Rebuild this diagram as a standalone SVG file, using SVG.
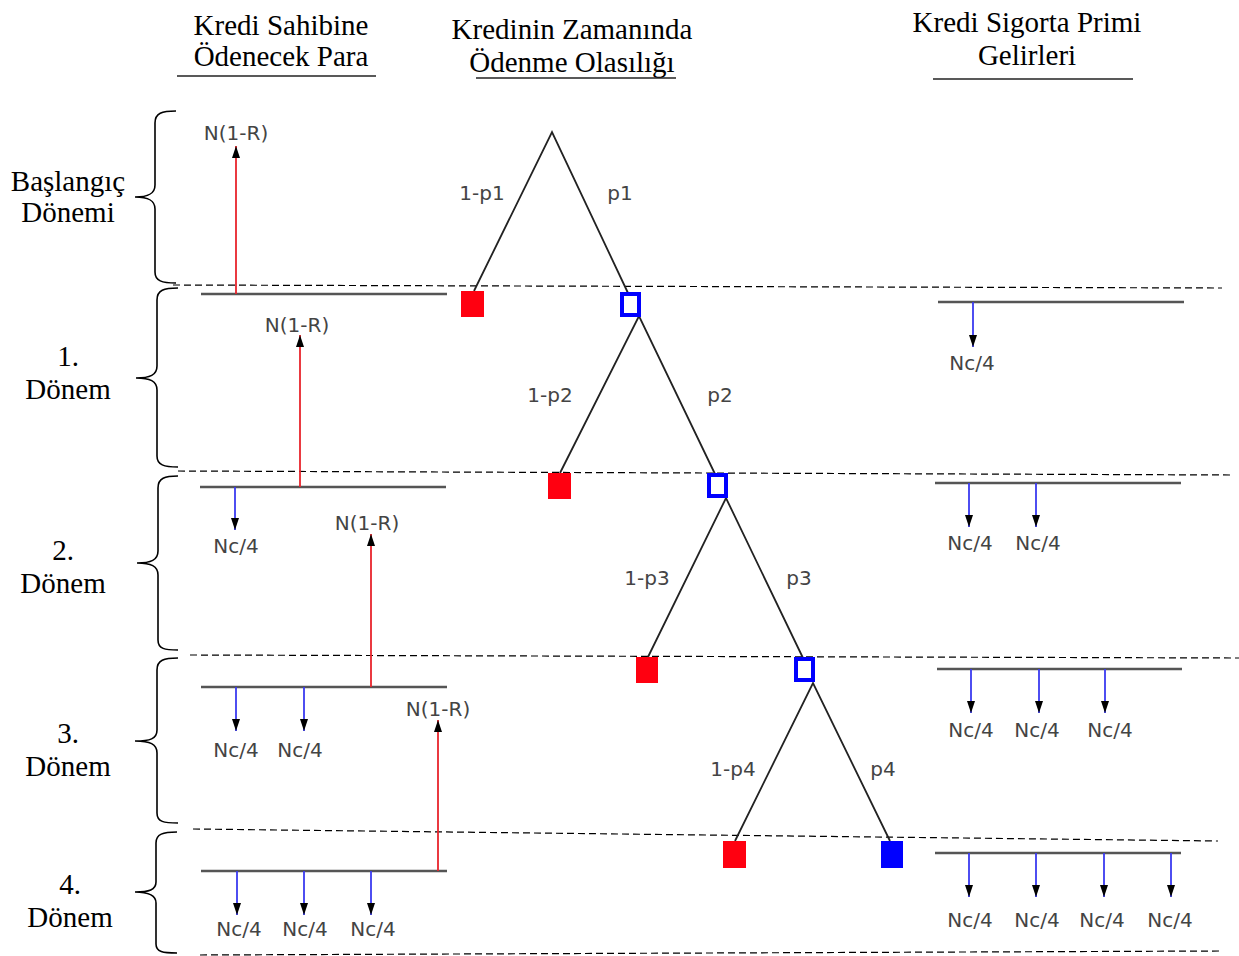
<svg xmlns="http://www.w3.org/2000/svg" width="1239" height="956" viewBox="0 0 1239 956">
<style>
.serif{font-family:"Liberation Serif","Times New Roman",serif;font-size:29px;fill:#000;text-anchor:middle}
.sans{font-family:"DejaVu Sans","Liberation Sans",sans-serif;font-size:20px;fill:#444;text-anchor:middle}
.dash{stroke:#000;stroke-width:1.2;stroke-dasharray:7 4;fill:none}
.tl{stroke:#555;stroke-width:2.6;fill:none}
.ul{stroke:#222;stroke-width:1.6;fill:none}
.brace{stroke:#000;stroke-width:1.6;fill:none}
.red{stroke:#e8242c;stroke-width:1.8;fill:none;marker-end:url(#ah)}
.blue{stroke:#3a3af0;stroke-width:1.8;fill:none;marker-end:url(#ah)}
.br{stroke:#222;stroke-width:1.8;fill:none}
.rs{fill:#ff0010}
.bh{fill:#fff;stroke:#0000ff;stroke-width:4}
.bf{fill:#0000ff}
</style>
<defs>
<marker id="ah" markerUnits="userSpaceOnUse" markerWidth="12" markerHeight="8" refX="12" refY="4" viewBox="0 0 12 8" orient="auto">
<path d="M0,0 L12,4 L0,8 z" fill="#000"/>
</marker>
</defs>
<rect width="1239" height="956" fill="#fff"/>

<g id="headers">
<text class="serif" x="281" y="35">Kredi Sahibine</text>
<text class="serif" x="281" y="66">Ödenecek Para</text>
<line class="ul" x1="177" y1="76" x2="376" y2="76"/>
<text class="serif" x="572" y="39">Kredinin Zamanında</text>
<text class="serif" x="572" y="72">Ödenme Olasılığı</text>
<line class="ul" x1="476" y1="78" x2="676" y2="78"/>
<text class="serif" x="1027" y="32">Kredi Sigorta Primi</text>
<text class="serif" x="1027" y="65">Gelirleri</text>
<line class="ul" x1="933" y1="79" x2="1133" y2="79"/>
</g>

<g id="period-labels">
<text class="serif" x="68" y="191">Başlangıç</text>
<text class="serif" x="68" y="222">Dönemi</text>
<text class="serif" x="68" y="366">1.</text>
<text class="serif" x="68" y="399">Dönem</text>
<text class="serif" x="63" y="560">2.</text>
<text class="serif" x="63" y="593">Dönem</text>
<text class="serif" x="68" y="743">3.</text>
<text class="serif" x="68" y="776">Dönem</text>
<text class="serif" x="70" y="894">4.</text>
<text class="serif" x="70" y="927">Dönem</text>
</g>

<g id="braces">
<path class="brace" d="M176,111 C162,111 155,113 155,123 L155,185 C155,194 148,197 135,197 C148,197 155,200 155,209 L155,272 C155,281 162,283 176,283"/>
<path class="brace" d="M178,288 C164,288 157,290 157,300 L157,366 C157,375 150,378 136,378 C150,378 157,381 157,390 L157,456 C157,465 164,467 178,467"/>
<path class="brace" d="M178,476 C165,476 158,478 158,488 L158,551 C158,560 151,563 137,563 C151,563 158,566 158,575 L158,640 C158,649 165,650 178,650"/>
<path class="brace" d="M178,658 C164,658 157,660 157,670 L157,730 C157,739 150,741 135,741 C150,741 157,744 157,753 L157,813 C157,822 164,823 178,823"/>
<path class="brace" d="M177,832 C163,832 156,834 156,843 L156,882 C156,890 149,892 135,892 C149,892 156,895 156,903 L156,944 C156,952 163,953 177,953"/>
</g>

<g id="dashed-lines">
<line class="dash" x1="173" y1="285" x2="1222" y2="288"/>
<line class="dash" x1="178" y1="471" x2="1230" y2="475"/>
<line class="dash" x1="190" y1="655" x2="1239" y2="658"/>
<line class="dash" x1="193" y1="829" x2="1218" y2="841"/>
<line class="dash" x1="200" y1="955" x2="1220" y2="951"/>
</g>

<g id="timelines">
<line class="tl" x1="201" y1="294" x2="447" y2="294"/>
<line class="tl" x1="200" y1="487" x2="446" y2="487"/>
<line class="tl" x1="201" y1="687" x2="447" y2="687"/>
<line class="tl" x1="201" y1="871" x2="447" y2="871"/>
<line class="tl" x1="938" y1="302" x2="1184" y2="302"/>
<line class="tl" x1="935" y1="483" x2="1181" y2="483"/>
<line class="tl" x1="937" y1="669" x2="1182" y2="669"/>
<line class="tl" x1="935" y1="853" x2="1181" y2="853"/>
</g>

<g id="connectors">
<line class="red" x1="236" y1="294" x2="236" y2="146"/>
<line class="red" x1="300" y1="487" x2="300" y2="335"/>
<line class="red" x1="371" y1="687" x2="371" y2="534"/>
<line class="red" x1="438" y1="871" x2="438" y2="720"/>
<line class="blue" x1="235" y1="487" x2="235" y2="530"/>
<line class="blue" x1="236" y1="687" x2="236" y2="731"/>
<line class="blue" x1="304" y1="687" x2="304" y2="731"/>
<line class="blue" x1="237" y1="871" x2="237" y2="915"/>
<line class="blue" x1="304" y1="871" x2="304" y2="915"/>
<line class="blue" x1="371" y1="871" x2="371" y2="915"/>
<line class="blue" x1="973" y1="302" x2="973" y2="347"/>
<line class="blue" x1="969" y1="483" x2="969" y2="527"/>
<line class="blue" x1="1036" y1="483" x2="1036" y2="527"/>
<line class="blue" x1="971" y1="669" x2="971" y2="713"/>
<line class="blue" x1="1039" y1="669" x2="1039" y2="713"/>
<line class="blue" x1="1105" y1="669" x2="1105" y2="713"/>
<line class="blue" x1="969" y1="853" x2="969" y2="897"/>
<line class="blue" x1="1036" y1="853" x2="1036" y2="897"/>
<line class="blue" x1="1104" y1="853" x2="1104" y2="897"/>
<line class="blue" x1="1171" y1="853" x2="1171" y2="897"/>
<path class="br" d="M474,291 L552,132 L628,293"/>
<path class="br" d="M560,473 L639,316 L715,474"/>
<path class="br" d="M648,657 L726,498 L803,658"/>
<path class="br" d="M735,841 L813,683 L890,841"/>
</g>

<g id="amount-labels">
<text class="sans" x="236" y="140">N(1-R)</text>
<text class="sans" x="297" y="332">N(1-R)</text>
<text class="sans" x="367" y="530">N(1-R)</text>
<text class="sans" x="438" y="716">N(1-R)</text>
<text class="sans" x="236" y="553">Nc/4</text>
<text class="sans" x="236" y="757">Nc/4</text>
<text class="sans" x="300" y="757">Nc/4</text>
<text class="sans" x="239" y="936">Nc/4</text>
<text class="sans" x="305" y="936">Nc/4</text>
<text class="sans" x="373" y="936">Nc/4</text>
<text class="sans" x="972" y="370">Nc/4</text>
<text class="sans" x="970" y="550">Nc/4</text>
<text class="sans" x="1038" y="550">Nc/4</text>
<text class="sans" x="971" y="737">Nc/4</text>
<text class="sans" x="1037" y="737">Nc/4</text>
<text class="sans" x="1110" y="737">Nc/4</text>
<text class="sans" x="970" y="927">Nc/4</text>
<text class="sans" x="1037" y="927">Nc/4</text>
<text class="sans" x="1102" y="927">Nc/4</text>
<text class="sans" x="1170" y="927">Nc/4</text>
</g>

<g id="branch-labels">
<text class="sans" x="482" y="200">1-p1</text>
<text class="sans" x="620" y="200">p1</text>
<text class="sans" x="550" y="402">1-p2</text>
<text class="sans" x="720" y="402">p2</text>
<text class="sans" x="647" y="585">1-p3</text>
<text class="sans" x="799" y="585">p3</text>
<text class="sans" x="733" y="776">1-p4</text>
<text class="sans" x="883" y="776">p4</text>
</g>

<g id="node-red-1"><rect class="rs" x="461" y="291" width="23" height="26"/></g>
<g id="node-blue-1"><rect class="bh" x="622" y="294" width="17" height="21"/></g>
<g id="node-red-2"><rect class="rs" x="548" y="473" width="23" height="26"/></g>
<g id="node-blue-2"><rect class="bh" x="709" y="475" width="17" height="21"/></g>
<g id="node-red-3"><rect class="rs" x="636" y="657" width="22" height="26"/></g>
<g id="node-blue-3"><rect class="bh" x="796" y="659" width="17" height="21"/></g>
<g id="node-red-4"><rect class="rs" x="723" y="841" width="23" height="27"/></g>
<g id="node-blue-4"><rect class="bf" x="881" y="841" width="22" height="27"/></g>
</svg>
